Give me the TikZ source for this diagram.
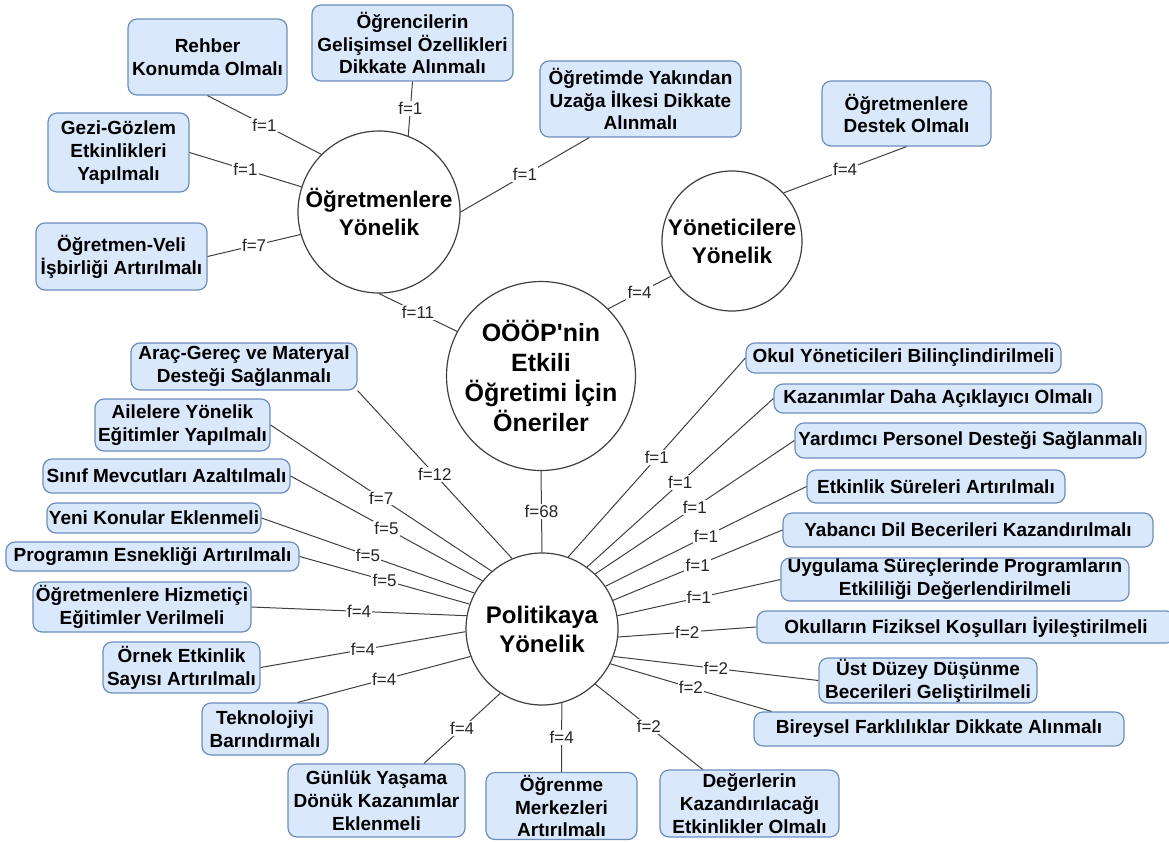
\documentclass[tikz,border=0pt]{standalone}
\usepackage{fontspec}
\setmainfont{Liberation Sans}
\definecolor{kutuMavi}{HTML}{DAE8FC}
\definecolor{kutuCizgi}{HTML}{6C8EBF}
\definecolor{koyu}{HTML}{404040}

\begin{document}
\begin{tikzpicture}[x=1pt,y=-1pt,
    kutu/.style={draw=kutuCizgi,fill=kutuMavi,line width=1.2pt,rounded corners=9pt,
      align=center,inner sep=1pt,font=\fontsize{19}{22.8}\selectfont\bfseries},
    daire/.style={circle,draw=koyu,fill=white,line width=1.2pt,align=center,inner sep=0pt},
    kenar/.style={draw=koyu,line width=1pt},
    etiket/.style={fill=white,inner sep=1.2pt,text=black!85,font=\fontsize{17}{17}\selectfont}]
  \useasboundingbox (0,0) rectangle (1169,841);

  \node[daire,minimum size=162,font=\fontsize{22.6}{28}\selectfont\bfseries] (ogrt) at (379,212) {Öğretmenlere\\Yönelik};
  \node[daire,minimum size=140,font=\fontsize{22.6}{28}\selectfont\bfseries] (yon) at (732,241) {Yöneticilere\\Yönelik};
  \node[daire,minimum size=163,font=\fontsize{25}{30}\selectfont\bfseries] (oneri) at (541,376) {OÖÖP\textquotesingle nin\\Etkili\\Öğretimi İçin\\Öneriler};
  \node[daire,minimum size=152,font=\fontsize{24}{29}\selectfont\bfseries] (pol) at (542,629) {Politikaya\\Yönelik};

  \foreach \n/\x/\y/\w/\h/\t in {
      rehber/207.5/57/159/76/{Rehber\\Konumda Olmalı},
      gelisim/412.5/43/201/76/{Öğrencilerin\\Gelişimsel Özellikleri\\Dikkate Alınmalı},
      yakin/640.5/99/201/76/{Öğretimde Yakından\\Uzağa İlkesi Dikkate\\Alınmalı},
      gezi/118.5/152.5/141/79/{Gezi-Gözlem\\Etkinlikleri\\Yapılmalı},
      veli/121.5/256.5/171/67/{Öğretmen-Veli\\İşbirliği Artırılmalı},
      destek/906.5/113.5/169/65/{Öğretmenlere\\Destek Olmalı},
      arac/244/366.5/226/47/{Araç-Gereç ve Materyal\\Desteği Sağlanmalı},
      aile/182.5/425/175/52/{Ailelere Yönelik\\Eğitimler Yapılmalı},
      sinif/166.5/476/247/34/{Sınıf Mevcutları Azaltılmalı},
      yeni/154/518/214/30/{Yeni Konular Eklenmeli},
      esnek/152.5/556.5/293/29/{Programın Esnekliği Artırılmalı},
      hizmet/142/607/218/50/{Öğretmenlere Hizmetiçi\\Eğitimler Verilmeli},
      ornek/181.5/667.5/157/51/{Örnek Etkinlik\\Sayısı Artırılmalı},
      tekno/265/729/126/52/{Teknolojiyi\\Barındırmalı},
      gunluk/376.5/800.5/177/73/{Günlük Yaşama\\Dönük Kazanımlar\\Eklenmeli},
      merkez/561.5/806/151/67/{Öğrenme\\Merkezleri\\Artırılmalı},
      deger/749.5/803.5/179/67/{Değerlerin\\Kazandırılacağı\\Etkinlikler Olmalı},
      okul/903.5/358/315/30/{Okul Yöneticileri Bilinçlindirilmeli},
      kazanim/938/398.5/328/29/{Kazanımlar Daha Açıklayıcı Olmalı},
      personel/970.5/440.5/351/35/{Yardımcı Personel Desteği Sağlanmalı},
      sure/936/486.5/258/33/{Etkinlik Süreleri Artırılmalı},
      dil/968/530/370/34/{Yabancı Dil Becerileri Kazandırılmalı},
      uygulama/955/579.5/348/43/{Uygulama Süreçlerinde Programların\\Etkililiği Değerlendirilmeli},
      fiziksel/966/627/418/32/{Okulların Fiziksel Koşulları İyileştirilmeli},
      ustduzey/928/680.5/218/45/{Üst Düzey Düşünme\\Becerileri Geliştirilmeli},
      bireysel/939/729/370/34/{Bireysel Farklılıklar Dikkate Alınmalı}} {
    \node[kutu,minimum width=\w,minimum height=\h] (\n) at (\x,\y) {\t};
  }

  \foreach \k/\a/\f in {rehber.south/135/1, gelisim.south/69/1, yakin.217/0/1,
      gezi.east/162/1, veli.east/196/7} {
    \draw[kenar] (\k) -- node[etiket] {f=\f} (ogrt.\a);
  }
  \draw[kenar] (ogrt.south) -- node[etiket] {f=11} (oneri.152);
  \draw[kenar] (oneri.45) -- node[etiket] {f=4} (yon.210);
  \draw[kenar] (destek.south) -- node[etiket] {f=4} (yon.43);
  \draw[kenar] (oneri.south) -- node[etiket] {f=68} (pol.north);

  \foreach \k/\a/\f in {arac.south east/113/12, aile.east/131/7, sinif.east/141/5,
      yeni.east/152/5, esnek.east/161/5, hizmet.east/170/4, ornek.east/182/4,
      tekno.39/201/4, gunluk.38/237/4, merkez.north/285/4, deger.144/314/2,
      bireysel.174/333/2, ustduzey.west/339/2, fiziksel.west/354/2,
      uygulama.west/10/1, dil.west/22/1, sure.west/34/1, personel.west/46/1,
      kazanim.west/54/1, okul.west/70/1} {
    \draw[kenar] (\k) -- node[etiket] {f=\f} (pol.\a);
  }
\end{tikzpicture}
\end{document}
